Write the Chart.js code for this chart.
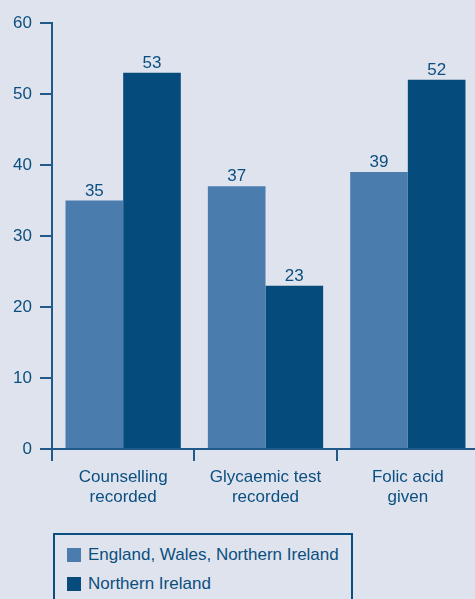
<!DOCTYPE html>
<html>
<head>
<meta charset="utf-8">
<script src="https://cdn.jsdelivr.net/npm/chart.js@4.4.1/dist/chart.umd.min.js"></script>
<style>
  html, body { margin: 0; padding: 0; background: #dfe3ed; overflow: hidden; }
  body { width: 475px; height: 599px; position: relative; font-family: "Liberation Sans", Arial, sans-serif; }
  #wrap { position: absolute; left: 0; top: 0; width: 480px; height: 530px; }
  #legend {
    position: absolute; left: 53px; top: 533px; width: 296px; height: 80px;
    border: 2px solid #0b4f80; box-sizing: content-box;
  }
  .leg-item { position: absolute; left: 12px; padding-left: 21px; font-size: 17px; color: #0b4f80; line-height: 17px; white-space: nowrap; }
  .leg-item span.sw { position: absolute; left: 0; top: 2px; width: 14px; height: 14px; }
</style>
</head>
<body>
<div id="wrap"><canvas id="chart"></canvas></div>
<div id="legend"></div>
<script>
// ── data ──────────────────────────────────────────────
const categories = [['Counselling', 'recorded'], ['Glycaemic test', 'recorded'], ['Folic acid', 'given']];
const seriesNames = ['England, Wales, Northern Ireland', 'Northern Ireland'];
const ewniValues = [35, 37, 39];
const niValues = [53, 23, 52];
const yTicks = [0, 10, 20, 30, 40, 50, 60];

const TEXT = '#0b4f80';
const AXIS = '#1f5a8a';
const colours = ['#4a7dad', '#054c7d'];
const FONT = '"Liberation Sans", Arial, sans-serif';

// value labels above bars
const barLabels = {
  id: 'barLabels',
  afterDatasetsDraw(chart) {
    const ctx = chart.ctx;
    ctx.save();
    ctx.font = '17px ' + FONT;
    ctx.fillStyle = TEXT;
    ctx.textAlign = 'center';
    ctx.textBaseline = 'alphabetic';
    chart.data.datasets.forEach((ds, i) => {
      chart.getDatasetMeta(i).data.forEach((bar, j) => {
        ctx.fillText(ds.data[j], bar.x, bar.y - 5);
      });
    });
    ctx.restore();
  }
};

const chart = new Chart(document.getElementById('chart'), {
  type: 'bar',
  data: {
    labels: categories,
    datasets: [
      { label: seriesNames[0], data: ewniValues, backgroundColor: colours[0] },
      { label: seriesNames[1], data: niValues, backgroundColor: colours[1] }
    ]
  },
  options: {
    responsive: true,
    maintainAspectRatio: false,
    animation: false,
    devicePixelRatio: 1,
    layout: { padding: { top: 23, right: 1, left: 0, bottom: 0 } },
    categoryPercentage: 0.81,
    barPercentage: 1.0,
    plugins: { legend: { display: false }, tooltip: { enabled: false } },
    scales: {
      x: {
        offset: true,
        grid: { offset: true, drawOnChartArea: false, drawTicks: true, tickLength: 12, color: AXIS, lineWidth: 2 },
        border: { display: true, color: AXIS, width: 2 },
        ticks: { color: TEXT, font: { family: FONT, size: 17, lineHeight: 20 / 17 }, padding: 6, maxRotation: 0 },
        afterFit(scale) { scale.height = 530 - 449; }
      },
      y: {
        min: 0, max: 60,
        afterBuildTicks(scale) { scale.ticks = yTicks.map(v => ({ value: v })); },
        grid: { drawOnChartArea: false, drawTicks: true, tickLength: 12, color: AXIS, lineWidth: 2 },
        border: { display: true, color: AXIS, width: 2 },
        ticks: { color: TEXT, font: { family: FONT, size: 17 }, padding: 8 },
        afterFit(scale) { scale.width = 52; }
      }
    }
  },
  plugins: [barLabels]
});

// html legend built from the datasets
const legend = document.getElementById('legend');
chart.data.datasets.forEach((ds, i) => {
  const item = document.createElement('div');
  item.className = 'leg-item';
  item.style.top = (11 + i * 29) + 'px';
  item.innerHTML = '<span class="sw" style="background:' + ds.backgroundColor + '"></span>' + ds.label;
  legend.appendChild(item);
});
</script>
</body>
</html>
